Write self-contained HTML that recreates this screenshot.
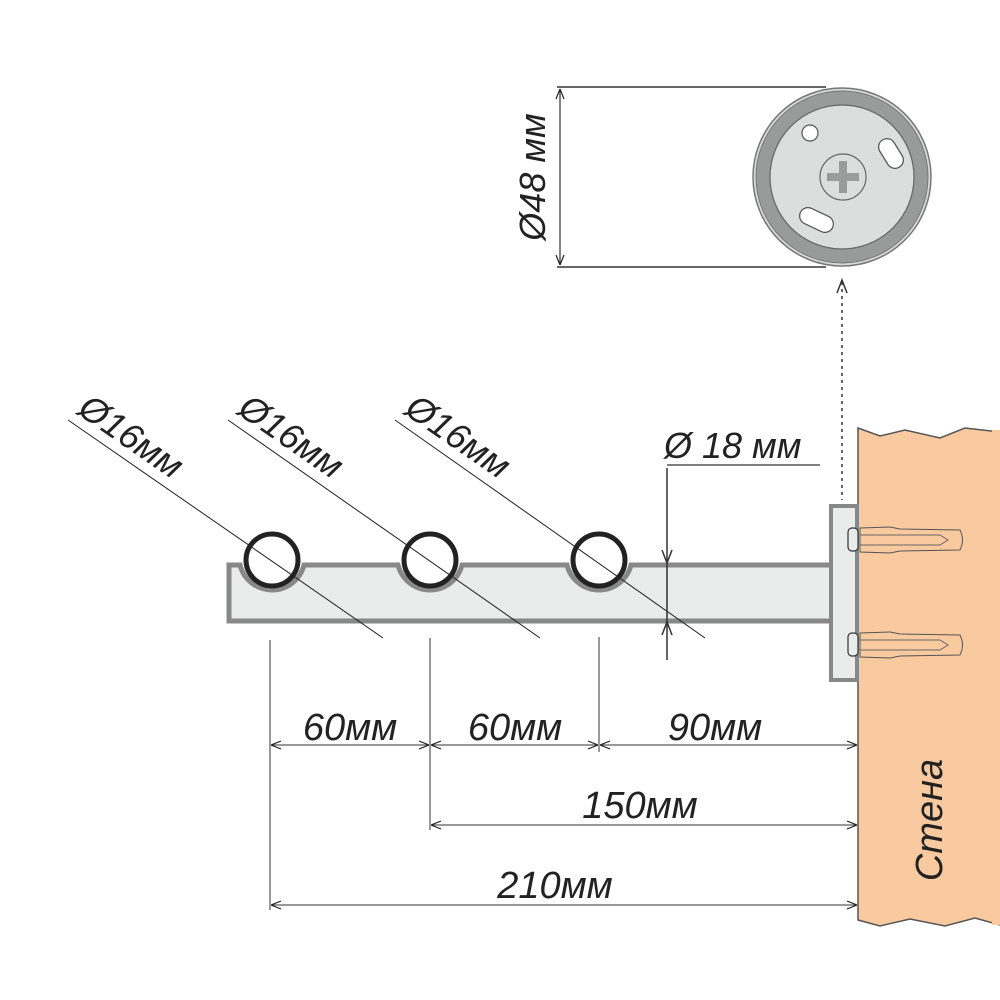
<!DOCTYPE html>
<html><head><meta charset="utf-8"><style>html,body{margin:0;padding:0;background:#fff}svg{display:block}</style></head>
<body>
<svg width="1000" height="1000" viewBox="0 0 1000 1000" xmlns="http://www.w3.org/2000/svg" font-family="Liberation Sans, DejaVu Sans, sans-serif">
<defs>
<marker id="a" viewBox="0 0 10 10" refX="10" refY="5" markerWidth="10" markerHeight="10" orient="auto-start-reverse" markerUnits="userSpaceOnUse"><path d="M0,1 L10,5 L0,9" fill="none" stroke="#222" stroke-width="1.2"/></marker>
</defs>
<!-- wall -->
<path d="M858,428 L880,436 L905,430 L940,438 L965,428 L1000,432 L1000,925 L975,918 L945,926 L910,919 L880,926 L858,920 Z" fill="#f9c9a0" stroke="#555" stroke-width="1.5"/>
<rect x="992" y="430" width="8" height="495" fill="#f9c9a0"/>
<text transform="translate(942,820) rotate(-90)" text-anchor="middle" font-size="38" font-style="italic" fill="#222">Стена</text>
<!-- top circle -->
<line x1="557" y1="87" x2="826" y2="87" stroke="#666" stroke-width="2"/>
<line x1="557" y1="267" x2="826" y2="267" stroke="#666" stroke-width="2"/>
<line x1="560" y1="89" x2="560" y2="265" stroke="#333" stroke-width="1.2" marker-start="url(#a)" marker-end="url(#a)"/>
<text transform="translate(545,177) rotate(-90)" text-anchor="middle" font-size="36" font-style="italic" fill="#222">Ø48 мм</text>
<circle cx="842" cy="177" r="89" fill="#d8d9d9" stroke="#777" stroke-width="1.5"/>
<circle cx="842" cy="177" r="86" fill="#999a9a" stroke="#777" stroke-width="1"/>
<circle cx="842" cy="177" r="72" fill="#dcdddd" stroke="#666" stroke-width="1.2"/>
<circle cx="810" cy="133" r="8" fill="#fff" stroke="#555" stroke-width="1.2"/>
<line x1="887" y1="147" x2="895" y2="160" stroke="#555" stroke-width="18" stroke-linecap="round"/>
<line x1="887" y1="147" x2="895" y2="160" stroke="#fff" stroke-width="15.5" stroke-linecap="round"/>
<line x1="808" y1="216" x2="825" y2="224" stroke="#555" stroke-width="18" stroke-linecap="round"/>
<line x1="808" y1="216" x2="825" y2="224" stroke="#fff" stroke-width="15.5" stroke-linecap="round"/>
<circle cx="843" cy="177" r="23" fill="#dcdddd" stroke="#666" stroke-width="1.2"/>
<path d="M839,161h8v12h12v8h-12v12h-8v-12h-12v-8h12z" fill="#9a9b9b"/>
<!-- dotted -->
<line x1="842" y1="282" x2="842" y2="500" stroke="#333" stroke-width="1.5" stroke-dasharray="3,4"/>
<path d="M837,293 L842,280 L847,293" fill="none" stroke="#333" stroke-width="1.5"/>
<!-- bar -->
<path d="M229,565 L240,565 A33,33 0 0 0 304,565 L398,565 A33,33 0 0 0 462,565 L567,565 A33,33 0 0 0 631,565 L832,565 L832,621 L229,621 Z" fill="#eaebeb" stroke="#888" stroke-width="5"/>
<circle cx="272" cy="560" r="26" fill="#fff" stroke="#222" stroke-width="5"/>
<circle cx="430" cy="560" r="26" fill="#fff" stroke="#222" stroke-width="5"/>
<circle cx="599" cy="560" r="26" fill="#fff" stroke="#222" stroke-width="5"/>
<!-- plate -->
<rect x="831" y="506" width="26" height="174" fill="#eaebeb" stroke="#888" stroke-width="4"/>
<!-- screws -->
<g fill="#f9c9a0" stroke="#555" stroke-width="1">
<path d="M860,528 L890,527 L900,529 L960,530 Q965,540 960,550 L900,551 L890,553 L860,552 Z"/>
<path d="M860,633 L890,632 L900,634 L960,635 Q965,645 960,655 L900,656 L890,658 L860,657 Z"/>
</g>
<g stroke="#666" stroke-width="1" fill="none">
<path d="M860,535 L940,535 L948,540 L940,545 L860,545"/>
<path d="M860,640 L940,640 L948,645 L940,650 L860,650"/>
</g>
<g fill="#eaebeb" stroke="#333" stroke-width="1.2">
<rect x="848" y="528" width="10" height="23" rx="4"/>
<rect x="848" y="633" width="10" height="23" rx="4"/>
</g>
<!-- diagonal leaders -->
<g stroke="#222" stroke-width="1">
<line x1="68" y1="420" x2="383" y2="638"/>
<line x1="228" y1="420" x2="540" y2="638"/>
<line x1="395" y1="420" x2="705" y2="638"/>
</g>
<g font-size="36" font-style="italic" fill="#222">
<text transform="translate(76,413) rotate(34.7)">Ø16мм</text>
<text transform="translate(236,413) rotate(34.7)">Ø16мм</text>
<text transform="translate(403,413) rotate(34.7)">Ø16мм</text>
</g>
<!-- Ø18 -->
<line x1="667" y1="468" x2="667" y2="660" stroke="#333" stroke-width="1.5"/>
<line x1="667" y1="465" x2="820" y2="465" stroke="#333" stroke-width="1.2"/>
<path d="M662,550 L667,563 L672,550 M662,635 L667,622 L672,635" fill="none" stroke="#333" stroke-width="1.5"/>
<text x="664" y="458" font-size="36" font-style="italic" fill="#222">Ø 18  мм</text>
<!-- dims -->
<g stroke="#555" stroke-width="1.2">
<line x1="270" y1="640" x2="270" y2="910"/>
<line x1="430" y1="638" x2="430" y2="830"/>
<line x1="599" y1="637" x2="599" y2="752"/>
</g>
<g stroke="#333" stroke-width="1" marker-start="url(#a)" marker-end="url(#a)">
<line x1="271" y1="745" x2="429" y2="745"/>
<line x1="431" y1="745" x2="598" y2="745"/>
<line x1="600" y1="745" x2="857" y2="745"/>
<line x1="431" y1="825" x2="857" y2="825"/>
<line x1="271" y1="905" x2="857" y2="905"/>
</g>
<g font-size="38" font-style="italic" fill="#222" text-anchor="middle">
<text x="350" y="740">60мм</text>
<text x="515" y="740">60мм</text>
<text x="715" y="740">90мм</text>
<text x="640" y="818">150мм</text>
<text x="555" y="898">210мм</text>
</g>
</svg>
</body></html>
